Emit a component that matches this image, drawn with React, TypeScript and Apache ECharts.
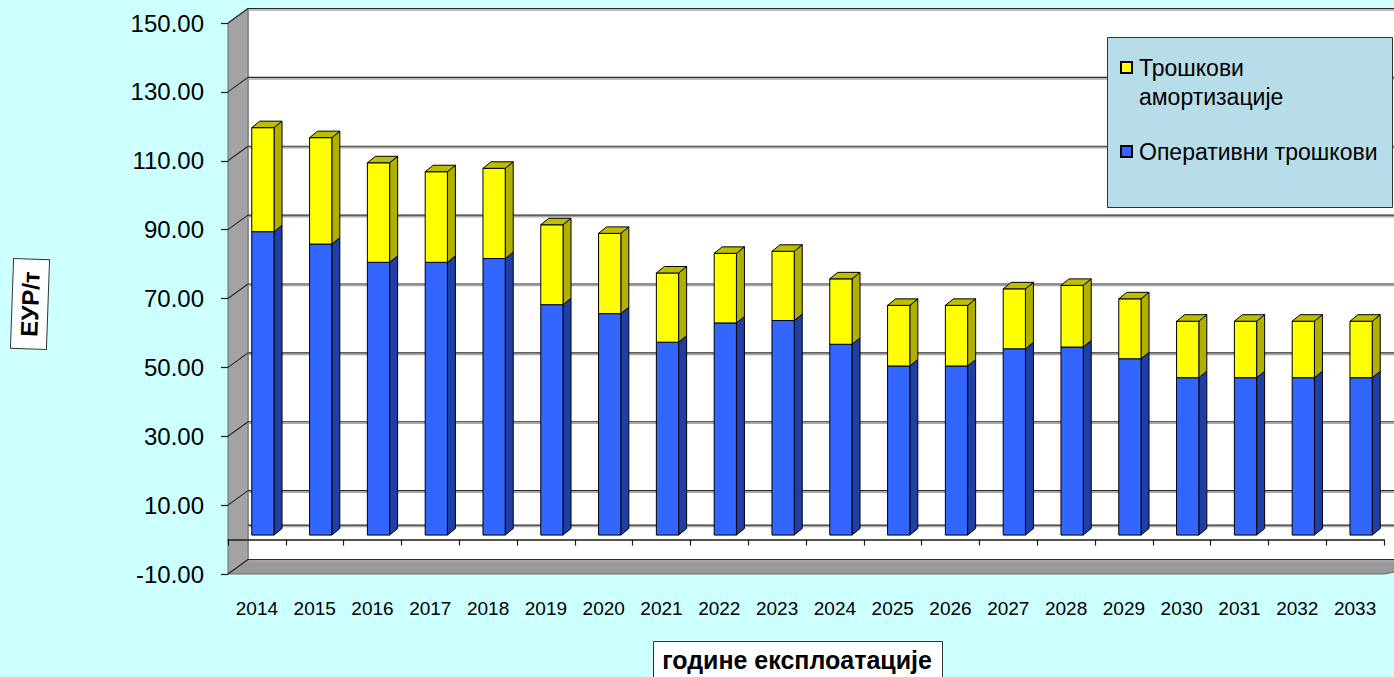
import React, { useEffect, useRef } from 'react';
import * as echarts from 'echarts';

const years = ['2014', '2015', '2016', '2017', '2018', '2019', '2020', '2021', '2022', '2023',
  '2024', '2025', '2026', '2027', '2028', '2029', '2030', '2031', '2032', '2033'];
const operatingCosts = [88.1, 84.5, 79.2, 79.2, 80.3, 66.9, 64.3, 56.0, 61.6, 62.3,
  55.4, 49.1, 49.1, 54.1, 54.6, 51.2, 45.7, 45.7, 45.7, 45.7];
const amortizationCosts = [30.2, 30.9, 28.9, 26.3, 26.2, 23.2, 23.3, 20.1, 20.2, 20.1,
  19.0, 17.6, 17.6, 17.4, 17.9, 17.4, 16.4, 16.4, 16.4, 16.4];
const yTicks = [-10, 10, 30, 50, 70, 90, 110, 130, 150];
const backLines = [0];
const yMin = -10;
const yMax = 150;
const nameOperating = 'Оперативни трошкови';
const nameAmortization = 'Трошкови амортизације';
const legendAmortization = 'Трошкови\nамортизације';
const yTitle = 'ЕУР/т';
const xTitle = 'године експлоатације';

const FONT = '"Liberation Sans", Arial, sans-serif';
const DX = 20;
const DY = -14.5;

function frameRenderItem(params: any, api: any) {
  const cs = params.coordSys;
  const left = cs.x;
  const right = cs.x + cs.width;
  const top = cs.y;
  const bottom = cs.y + cs.height;
  const far = right + DX + 60;
  const children: any[] = [];
  children.push({
    type: 'polygon',
    shape: { points: [[left + DX, top + DY], [far, top + DY], [far, bottom + DY], [left + DX, bottom + DY]] },
    style: { fill: '#ffffff', stroke: '#707070', lineWidth: 1 },
  });
  children.push({
    type: 'polygon',
    shape: { points: [[left, top], [left + DX, top + DY], [left + DX, bottom + DY], [left, bottom]] },
    style: { fill: '#a3a3a3', stroke: '#6a6a6a', lineWidth: 1 },
  });
  children.push({
    type: 'polygon',
    shape: { points: [[left, bottom], [left + DX, bottom + DY], [far, bottom + DY], [right, bottom]] },
    style: { fill: '#999999', stroke: '#6a6a6a', lineWidth: 1 },
  });
  const vals = yTicks.concat(backLines);
  vals.forEach((v) => {
    const y = api.coord([0, v])[1];
    children.push({
      type: 'line',
      shape: { x1: left + DX, y1: y + DY + 1.5, x2: far, y2: y + DY + 1.5 },
      style: { stroke: '#a8a8a8', lineWidth: 1.5 },
    });
    children.push({
      type: 'line',
      shape: { x1: left + DX, y1: y + DY, x2: far, y2: y + DY },
      style: { stroke: '#2a2a2a', lineWidth: 1.2 },
    });
    if (v !== 0) {
      children.push({
        type: 'line',
        shape: { x1: left, y1: y, x2: left + DX, y2: y + DY },
        style: { stroke: '#2a2a2a', lineWidth: 1.2 },
      });
    }
  });
  return { type: 'group', children };
}

function makeBarRender(front: string, side: string, topFill: string, drawTop: boolean) {
  return (params: any, api: any) => {
    const idx = api.value(0);
    const lo = api.value(1);
    const hi = api.value(2);
    const cTop = api.coord([idx, hi]);
    const cBot = api.coord([idx, lo]);
    const band = api.size([1, 0])[0];
    const w = band * 0.385;
    const ox = 6;
    const oy = -4.5;
    const x0 = cTop[0] - w / 2 + ox;
    const x1 = x0 + w;
    const yT = cTop[1] + oy;
    const yB = cBot[1] + oy;
    const sdx = 8;
    const sdy = -6.5;
    const stroke = { stroke: '#000000', lineWidth: 1, lineJoin: 'round' };
    const children: any[] = [
      {
        type: 'polygon',
        shape: { points: [[x1, yT], [x1 + sdx, yT + sdy], [x1 + sdx, yB + sdy], [x1, yB]] },
        style: { fill: side, ...stroke },
      },
      {
        type: 'rect',
        shape: { x: x0, y: yT, width: w, height: yB - yT },
        style: { fill: front, ...stroke },
      },
    ];
    if (drawTop) {
      children.push({
        type: 'polygon',
        shape: { points: [[x0, yT], [x0 + sdx, yT + sdy], [x1 + sdx, yT + sdy], [x1, yT]] },
        style: { fill: topFill, ...stroke },
      });
    }
    return { type: 'group', children };
  };
}

export default function App() {
  const ref = useRef<HTMLDivElement>(null);
  useEffect(() => {
    if (!ref.current) return;
    const chart = echarts.init(ref.current, null, { renderer: 'svg' });
    const blueData = years.map((_, i) => [i, 0, operatingCosts[i]]);
    const yellowData = years.map((_, i) => [i, operatingCosts[i], operatingCosts[i] + amortizationCosts[i]]);
    chart.setOption({
      animation: false,
      backgroundColor: '#CCFFFF',
      textStyle: { fontFamily: FONT },
      grid: { left: 228, right: 10, top: 23, bottom: 103, containLabel: false },
      xAxis: [
        {
          type: 'category',
          data: years,
          position: 'bottom',
          boundaryGap: true,
          axisLine: { show: true, onZero: true, lineStyle: { color: '#1a1a1a', width: 1.5 } },
          axisTick: { show: true, length: 6, interval: 0, lineStyle: { color: '#1a1a1a', width: 1.2 } },
          axisLabel: { show: false },
          splitLine: { show: false },
          z: 1,
        },
        {
          type: 'category',
          data: years,
          position: 'bottom',
          axisLine: { show: false, onZero: false },
          axisTick: { show: false },
          axisLabel: { show: true, interval: 0, margin: 25, fontSize: 19, color: '#000', fontFamily: FONT },
          splitLine: { show: false },
        },
      ],
      yAxis: {
        type: 'value',
        min: yMin,
        max: yMax,
        axisLine: { show: false },
        axisTick: { show: true, length: 7, customValues: yTicks, lineStyle: { color: '#1a1a1a', width: 1.2 } },
        axisLabel: {
          show: true,
          customValues: yTicks,
          margin: 24,
          fontSize: 24,
          color: '#000',
          fontFamily: FONT,
          formatter: (v: number) => v.toFixed(2),
        },
        splitLine: { show: false },
      },
      series: [
        {
          type: 'custom',
          name: 'frame',
          xAxisIndex: 0,
          yAxisIndex: 0,
          data: [[0, 0]],
          renderItem: frameRenderItem,
          z: 0,
          silent: true,
        },
        {
          type: 'custom',
          name: nameOperating,
          xAxisIndex: 0,
          yAxisIndex: 0,
          data: blueData,
          encode: { x: 0, y: [1, 2] },
          renderItem: makeBarRender('#3366FF', '#1F3FA6', '#2B55D6', false),
          itemStyle: { color: '#3366FF' },
          z: 3,
        },
        {
          type: 'custom',
          name: nameAmortization,
          xAxisIndex: 0,
          yAxisIndex: 0,
          data: yellowData,
          encode: { x: 0, y: [1, 2] },
          renderItem: makeBarRender('#FFFF00', '#B0B000', '#BEBE00', true),
          itemStyle: { color: '#FFFF00' },
          z: 4,
        },
      ],
      graphic: [
        {
          type: 'rect',
          z: 100,
          shape: { x: 1107.5, y: 37.5, width: 285, height: 170 },
          style: { fill: '#B7DDE8', stroke: '#333333', lineWidth: 1 },
        },
        {
          type: 'rect',
          z: 101,
          shape: { x: 1121, y: 62, width: 11, height: 11 },
          style: { fill: '#FFFF00', stroke: '#000', lineWidth: 2 },
        },
        {
          type: 'text',
          z: 101,
          x: 1139,
          y: 53.5,
          style: {
            text: legendAmortization,
            font: `23px ${FONT}`,
            fill: '#000',
            lineHeight: 29,
            verticalAlign: 'top',
            align: 'left',
          },
        },
        {
          type: 'rect',
          z: 101,
          shape: { x: 1121, y: 146, width: 11, height: 11 },
          style: { fill: '#3366FF', stroke: '#000', lineWidth: 2 },
        },
        {
          type: 'text',
          z: 101,
          x: 1139,
          y: 152,
          style: {
            text: nameOperating,
            font: `23px ${FONT}`,
            fill: '#000',
            verticalAlign: 'middle',
            align: 'left',
          },
        },
        {
          type: 'group',
          x: 30,
          y: 304,
          rotation: (88 * Math.PI) / 180,
          children: [
            {
              type: 'rect',
              z: 100,
              shape: { x: -45, y: -18, width: 90, height: 36 },
              style: { fill: '#ffffff', stroke: '#333333', lineWidth: 1 },
            },
            {
              type: 'text',
              z: 101,
              x: 0,
              y: 0,
              style: {
                text: yTitle,
                font: `bold 24px ${FONT}`,
                fill: '#000',
                align: 'center',
                verticalAlign: 'middle',
              },
            },
          ],
        },
        {
          type: 'rect',
          z: 100,
          shape: { x: 653.5, y: 641.5, width: 289, height: 44 },
          style: { fill: '#ffffff', stroke: '#333333', lineWidth: 1 },
        },
        {
          type: 'text',
          z: 101,
          x: 797,
          y: 660,
          style: {
            text: xTitle,
            font: `bold 25px ${FONT}`,
            fill: '#000',
            align: 'center',
            verticalAlign: 'middle',
          },
        },
      ],
    });
    return () => chart.dispose();
  }, []);
  return (
    <div
      ref={ref}
      style={{ position: 'fixed', left: 0, top: 0, width: 1394, height: 677, background: '#CCFFFF' }}
    />
  );
}
